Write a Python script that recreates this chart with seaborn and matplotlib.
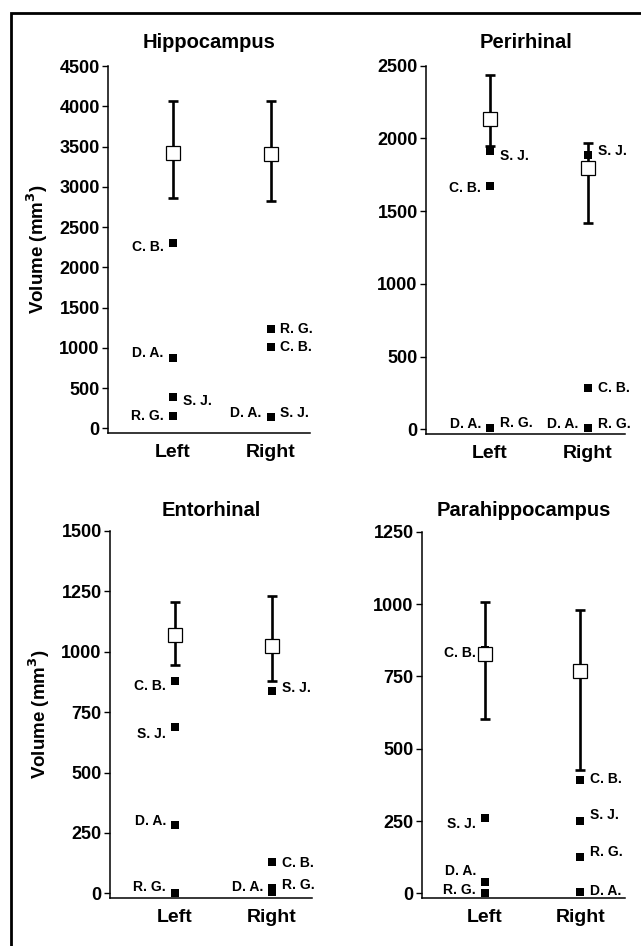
import numpy as np
import pandas as pd
import matplotlib
matplotlib.use('Agg')
import matplotlib.pyplot as plt
from matplotlib.patches import Rectangle
import seaborn as sns

regions = ['Hippocampus', 'Perirhinal', 'Entorhinal', 'Parahippocampus']
sides = ['Left', 'Right']
subjects = ['C. B.', 'D. A.', 'S. J.', 'R. G.']

# volumes des sujets (mm3), ordre = subjects
hippocampus_left = [2305, 879, 390, 150]
hippocampus_right = [1007, 141, 141, 1228]
perirhinal_left = [1675, 7, 1914, 7]
perirhinal_right = [286, 10, 1884, 10]
entorhinal_left = [877, 282, 688, 2]
entorhinal_right = [130, 20, 839, 5]
parahippocampus_left = [842, 38, 260, 2]
parahippocampus_right = [392, 3, 250, 124]

# groupe controle : moyenne et bornes des barres d'erreur (Left, Right)
hippocampus_mean = [3416, 3404]
hippocampus_low = [2864, 2823]
hippocampus_high = [4070, 4070]
perirhinal_mean = [2132, 1799]
perirhinal_low = [1948, 1421]
perirhinal_high = [2439, 1967]
entorhinal_mean = [1068, 1025]
entorhinal_low = [947, 878]
entorhinal_high = [1205, 1229]
parahippocampus_mean = [828, 767]
parahippocampus_low = [603, 425]
parahippocampus_high = [1006, 981]

y_max = [4500, 2500, 1500, 1250]
y_step = [500, 500, 250, 250]

patients = {
    'Hippocampus': (hippocampus_left, hippocampus_right),
    'Perirhinal': (perirhinal_left, perirhinal_right),
    'Entorhinal': (entorhinal_left, entorhinal_right),
    'Parahippocampus': (parahippocampus_left, parahippocampus_right),
}
controls = {
    'Hippocampus': (hippocampus_mean, hippocampus_low, hippocampus_high),
    'Perirhinal': (perirhinal_mean, perirhinal_low, perirhinal_high),
    'Entorhinal': (entorhinal_mean, entorhinal_low, entorhinal_high),
    'Parahippocampus': (parahippocampus_mean, parahippocampus_low, parahippocampus_high),
}

rows = []
for reg in regions:
    for s, vals in zip(sides, patients[reg]):
        for subj, v in zip(subjects, vals):
            rows.append({'region': reg, 'side': s, 'subject': subj, 'volume': v})
df = pd.DataFrame(rows)
df['x'] = df['side'].map({'Left': 0, 'Right': 1})

# placement des etiquettes : (cote, decalage vertical en points)
label_pos = {
    'Hippocampus': {
        'Left': {'C. B.': ('l', -3), 'D. A.': ('l', 3), 'S. J.': ('r', -3), 'R. G.': ('l', 0)},
        'Right': {'C. B.': ('r', 0), 'D. A.': ('l', 3), 'S. J.': ('r', 3), 'R. G.': ('r', 0)},
    },
    'Perirhinal': {
        'Left': {'C. B.': ('l', -2), 'D. A.': ('l', 3), 'S. J.': ('r', -4), 'R. G.': ('r', 4)},
        'Right': {'C. B.': ('r', 0), 'D. A.': ('l', 3), 'S. J.': ('r', 3), 'R. G.': ('r', 3)},
    },
    'Entorhinal': {
        'Left': {'C. B.': ('l', -3), 'D. A.': ('l', 3), 'S. J.': ('l', -5), 'R. G.': ('l', 4)},
        'Right': {'C. B.': ('r', -1), 'D. A.': ('l', 1), 'S. J.': ('r', 2), 'R. G.': ('r', 5)},
    },
    'Parahippocampus': {
        'Left': {'C. B.': ('l', -2), 'D. A.': ('l', 8), 'S. J.': ('l', -4), 'R. G.': ('l', 2)},
        'Right': {'C. B.': ('r', 1), 'D. A.': ('r', 1), 'S. J.': ('r', 4), 'R. G.': ('r', 4)},
    },
}

sns.set_style('ticks')
plt.rcParams['font.family'] = ['Liberation Sans', 'DejaVu Sans']
plt.rcParams['font.weight'] = 'bold'
plt.rcParams['text.color'] = 'black'
plt.rcParams['axes.labelcolor'] = 'black'
plt.rcParams['xtick.color'] = 'black'
plt.rcParams['ytick.color'] = 'black'

fig = plt.figure(figsize=(6.41, 9.46), dpi=100)

# positions des axes [gauche, bas, largeur, hauteur] en fraction de figure
boxes = [
    [0.1685, 0.5423, 0.3150, 0.3879],
    [0.6646, 0.5412, 0.3105, 0.3894],
    [0.1716, 0.0507, 0.3150, 0.3880],
    [0.6583, 0.0507, 0.3167, 0.3872],
]
xlims = [(-0.663, 1.40), (-0.653, 1.38), (-0.67, 1.41), (-0.663, 1.47)]

for i, reg in enumerate(regions):
    ax = fig.add_axes(boxes[i])
    sub = df[df['region'] == reg]
    mean, low, high = controls[reg]
    mean = np.array(mean)
    yerr = [mean - np.array(low), np.array(high) - mean]

    ax.errorbar([0, 1], mean, yerr=yerr, fmt='none', ecolor='black',
                elinewidth=1.9, capsize=3.8, capthick=1.9, zorder=2)
    sns.scatterplot(data=sub, x='x', y='volume', marker='s', color='black',
                    s=30, linewidth=0, ax=ax, zorder=3)
    ax.plot([0, 1], mean, 's', markersize=9.5, markerfacecolor='white',
            markeredgecolor='black', markeredgewidth=0.9, zorder=4)

    for _, r in sub.iterrows():
        side, dy = label_pos[reg][r['side']][r['subject']]
        dx = -6.5 if side == 'l' else 7
        ax.annotate(r['subject'], (r['x'], r['volume']), xytext=(dx, dy),
                    textcoords='offset points', ha='right' if side == 'l' else 'left',
                    va='center', fontsize=10, fontweight='bold', zorder=5)

    ax.set_xlim(*xlims[i])
    ax.set_ylim(-0.013 * y_max[i], y_max[i])
    ax.set_yticks(np.arange(0, y_max[i] + 1, y_step[i]))
    ax.set_xticks([0, 1])
    ax.set_xticklabels(sides, fontsize=14, fontweight='bold')
    ax.tick_params(axis='x', length=0, pad=8)
    ax.tick_params(axis='y', length=4, width=1, labelsize=13, direction='out', pad=2)
    for lab in ax.get_yticklabels():
        lab.set_fontweight('bold')
    sns.despine(ax=ax)
    for sp in ['left', 'bottom']:
        ax.spines[sp].set_linewidth(1.1)
        ax.spines[sp].set_color('black')
    ax.set_xlabel('')
    if i % 2 == 0:
        ax.set_ylabel('Volume (mm$^\\mathbf{3}$)', fontsize=13.5, fontweight='bold', labelpad=7)
    else:
        ax.set_ylabel('')
    ax.set_title(reg, fontsize=14.5, fontweight='bold', pad=13 if i < 2 else 11)
    ax.patch.set_alpha(0)

# cadre noir
fig.add_artist(Rectangle((0.0172, -0.05), 1.1, 0.9863 + 0.05, transform=fig.transFigure,
                         fill=False, edgecolor='black', linewidth=2, clip_on=False))

fig.savefig('out.png', dpi=100)
